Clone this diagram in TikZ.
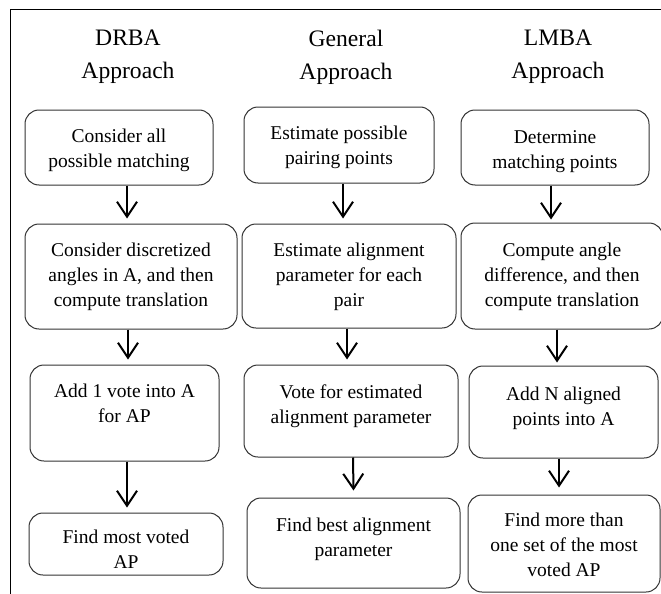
\documentclass[tikz,border=0pt]{standalone}
\usepackage{fontspec}
\setmainfont{Liberation Serif}
\usetikzlibrary{arrows.meta,fit}
\begin{document}
\begin{tikzpicture}[x=1pt,y=-1pt,
  box/.style={draw=black!80, line width=1pt, rounded corners=14pt, inner sep=0pt},
  txt/.style={align=center, inner sep=0pt, anchor=north, font=\fontsize{19.5}{25}\selectfont},
  ttl/.style={align=center, inner sep=0pt, anchor=north, font=\fontsize{23.6}{33}\selectfont},
  arr/.style={line width=2pt, -{Straight Barb[length=15pt,width=20pt]}}]
\useasboundingbox (0,0) rectangle (661,594);
\fill[white] (0,0) rectangle (661,594);
\clip (0,0) rectangle (661,594);
% frame
\coordinate (fa) at (10.5,596);
\coordinate (fb) at (10.5,10);
\coordinate (fc) at (663,10);
\draw[line width=1pt] (fa) -- (fb) -- (fc);
% titles
\node[ttl] (h1) at (128,30) {DRBA\\Approach};
\node[ttl] (h2) at (346,30) {General\\Approach};
\node[ttl] (h3) at (558,30) {LMBA\\Approach};
% column 1
\node[box, fit={(25,110) (213,185)}] (b11) {};
\node[box, fit={(25,224) (237,329)}] (b12) {};
\node[box, fit={(30,365) (219,461)}] (b13) {};
\node[box, fit={(29,513) (223,575)}] (b14) {};
% column 2
\node[box, fit={(244,107) (434,183)}] (b21) {};
\node[box, fit={(242,224) (456,328)}] (b22) {};
\node[box, fit={(244,365) (458,457)}] (b23) {};
\node[box, fit={(247,498) (460,588)}] (b24) {};
% column 3
\node[box, fit={(461,110) (649,185)}] (b31) {};
\node[box, fit={(461,223) (663,329)}] (b32) {};
\node[box, fit={(469,366) (658,458)}] (b33) {};
\node[box, fit={(468,495) (660,592)}] (b34) {};
% texts
\node[txt] (t11) at ([yshift=-19pt]b11.north) {Consider all\\possible matching};
\node[txt] (t12) at ([yshift=-19pt]b12.north) {Consider discretized\\angles in A, and then\\compute translation};
\node[txt] (t13) at ([yshift=-19pt]b13.north) {Add 1 vote into A\\for AP};
\node[txt] (t14) at ([yshift=-17pt]b14.north) {Find most voted\\AP};
\node[txt] (t21) at ([yshift=-19pt]b21.north) {Estimate possible\\pairing points};
\node[txt] (t22) at ([yshift=-19pt]b22.north) {Estimate alignment\\parameter for each\\pair};
\node[txt] (t23) at ([yshift=-20pt]b23.north) {Vote for estimated\\alignment parameter};
\node[txt] (t24) at ([yshift=-20pt]b24.north) {Find best alignment\\parameter};
\node[txt] (t31) at ([yshift=-21pt]b31.north) {Determine\\matching points};
\node[txt] (t32) at ([yshift=-20pt]b32.north) {Compute angle\\difference, and then\\compute translation};
\node[txt] (t33) at ([yshift=-21pt]b33.north) {Add N aligned\\points into A};
\node[txt] (t34) at ([yshift=-18pt]b34.north) {Find more than\\one set of the most\\voted AP};
% arrows
\draw[arr] ([xshift=8pt]b11.south) -- ([xshift=-4pt,yshift=5pt]b12.north);
\draw[arr] ([xshift=-3pt]b12.south) -- ([xshift=3.5pt,yshift=5pt]b13.north);
\draw[arr] ([xshift=2.5pt]b13.south) -- ([xshift=1pt,yshift=5pt]b14.north);
\draw[arr] ([xshift=4pt]b21.south) -- ([xshift=-6pt,yshift=5pt]b22.north);
\draw[arr] ([xshift=-2pt]b22.south) -- ([xshift=-4pt,yshift=5pt]b23.north);
\draw[arr] ([xshift=2pt]b23.south) -- ([xshift=0pt,yshift=7pt]b24.north);
\draw[arr] ([xshift=-4pt]b31.south) -- ([xshift=-11pt,yshift=3pt]b32.north);
\draw[arr] ([xshift=-5pt]b32.south) -- ([xshift=-6.5pt,yshift=3pt]b33.north);
\draw[arr] ([xshift=-4.5pt]b33.south) -- ([xshift=-5pt,yshift=7pt]b34.north);
\end{tikzpicture}
\end{document}
